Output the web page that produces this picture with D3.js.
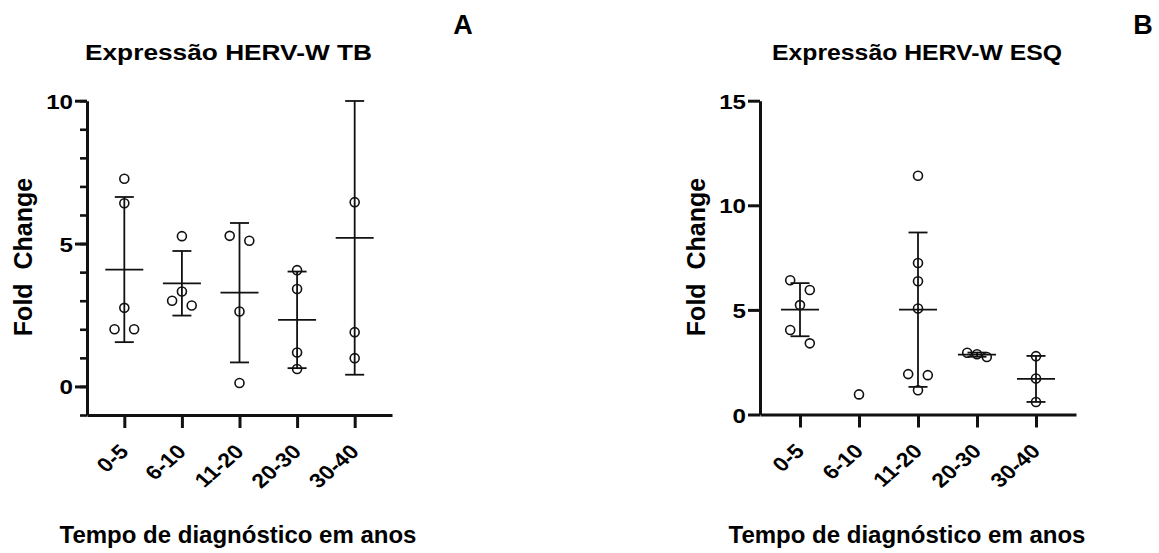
<!DOCTYPE html>
<html><head><meta charset="utf-8">
<script src="https://cdn.jsdelivr.net/npm/d3@7"></script>
<style>
body{margin:0;background:#fff}
svg{display:block}
text{font-family:"Liberation Sans",Arial,sans-serif;font-weight:bold;fill:#000}
</style>
</head><body>
<svg id="c" width="1159" height="553"></svg>
<script>
// ---------- data ----------
const categories = ["0-5","6-10","11-20","20-30","30-40"];
const tbTitle = "Expressão HERV-W TB";
const esqTitle = "Expressão HERV-W ESQ";
const yLabel = "Fold  Change";
const xLabel = "Tempo de diagnóstico em anos";
const panelLetters = ["A","B"];
const tbTicks = [0,5,10];
const tbMinorTicks = [-1,0,1,2,3,4,5,6,7,8,9,10];
const esqTicks = [0,5,10,15];
// individual values (visible points) per category
const tbValues = [[7.27,6.41,2.75,2.00,2.00],[5.26,3.32,3.00,2.83],[5.27,5.10,2.62,0.12],[4.07,3.41,1.19,0.61],[6.45,1.90,0.99]];
const tbLanes  = [[0,0,0,-1,1],[0,0,-1,1],[-1,1,0,0],[0,0,0,0],[0,0,0]];
const tbMean   = [4.09,3.61,3.28,2.33,5.20];
const tbSD     = [2.54,1.13,2.44,1.69,4.79];
const esqValues = [[6.42,5.95,5.23,4.04,3.40],[0.96],[11.41,7.24,6.37,5.07,1.93,1.88,1.16],[2.95,2.88,2.75],[2.79,1.72,0.60]];
const esqLanes  = [[-1,1,0,-1,1],[0],[0,0,0,0,-1,1,0],[-1,0,1],[0,0,0]];
const esqMean   = [5.01,null,5.01,2.86,1.70];
const esqSD     = [1.27,null,3.69,0.10,1.10];

// ---------- drawing ----------
const svg = d3.select("#c");
const INK = "#111";
const SX = 1.15; // horizontal stretch of the source figure's lettering

function panel(cfg){
  const g = svg.append("g");
  const y = d3.scaleLinear().domain(cfg.yDomain).range(cfg.yRange);
  const x = d3.scalePoint().domain(categories).range(cfg.xRange).padding(cfg.pad);
  const axisY = cfg.xRange[0];
  const axisX = cfg.yRange[0];

  // minor ticks
  if (cfg.minor) {
    g.append("g").attr("transform",`translate(${axisY},0)`)
      .call(d3.axisLeft(y).tickValues(cfg.minor).tickSize(7).tickFormat(""))
      .call(s=>s.select(".domain").remove())
      .call(s=>s.selectAll("line").attr("stroke",INK).attr("stroke-width",2.6));
  }
  // y axis
  g.append("g").attr("transform",`translate(${axisY},0)`)
    .call(d3.axisLeft(y).tickValues(cfg.yTicks).tickSize(12).tickSizeOuter(0))
    .call(s=>s.select(".domain").attr("stroke",INK).attr("stroke-width",3))
    .call(s=>s.selectAll(".tick line").attr("stroke",INK).attr("stroke-width",3))
    .call(s=>s.selectAll(".tick text").attr("font-size",21).attr("fill","#000")
      .attr("font-family",null).attr("x",0).attr("dy","0.36em")
      .attr("transform",`translate(-14,0) scale(${SX},1)`));
  // x axis
  g.append("g").attr("transform",`translate(0,${axisX})`)
    .call(d3.axisBottom(x).tickSize(13).tickSizeOuter(0))
    .call(s=>s.select(".domain").attr("stroke",INK).attr("stroke-width",3))
    .call(s=>s.selectAll(".tick line").attr("stroke",INK).attr("stroke-width",3))
    .call(s=>s.selectAll(".tick text").attr("font-size",20).attr("fill","#000")
      .attr("font-family",null).attr("text-anchor","end").attr("y",0).attr("dy",0)
      .attr("transform",`translate(5,38) scale(${SX},1) rotate(-45)`));

  // error bars + means
  const stats = categories.map((c,i)=>({c, m:cfg.mean[i], sd:cfg.sd[i]})).filter(d=>d.m!=null);
  const top = d=>y(Math.min(d.m+d.sd,cfg.yDomain[1]));
  const eb = g.append("g").attr("stroke",INK).attr("stroke-width",1.8).attr("fill","none");
  eb.selectAll(".v").data(stats).join("line")
    .attr("x1",d=>x(d.c)).attr("x2",d=>x(d.c)).attr("y1",top).attr("y2",d=>y(d.m-d.sd));
  eb.selectAll(".cap-t").data(stats).join("line")
    .attr("x1",d=>x(d.c)-9.5).attr("x2",d=>x(d.c)+9.5).attr("y1",top).attr("y2",top);
  eb.selectAll(".cap-b").data(stats).join("line")
    .attr("x1",d=>x(d.c)-9.5).attr("x2",d=>x(d.c)+9.5)
    .attr("y1",d=>y(d.m-d.sd)).attr("y2",d=>y(d.m-d.sd));
  eb.selectAll(".mean").data(stats).join("line")
    .attr("x1",d=>x(d.c)-19).attr("x2",d=>x(d.c)+19)
    .attr("y1",d=>y(d.m)).attr("y2",d=>y(d.m));

  // points
  const pts = [];
  categories.forEach((c,i)=>cfg.values[i].forEach((v,j)=>{
    if (v>=cfg.yDomain[0] && v<=cfg.yDomain[1]) pts.push({c,v,lane:cfg.lanes[i][j]});
  }));
  g.append("g").selectAll("circle").data(pts).join("circle")
    .attr("cx",d=>x(d.c)+d.lane*9.8).attr("cy",d=>y(d.v)).attr("r",4.5)
    .attr("fill","none").attr("stroke",INK).attr("stroke-width",1.6);

  // titles
  g.append("text").attr("x",cfg.titleX).attr("y",60).attr("text-anchor","middle")
    .attr("font-size",22).attr("textLength",cfg.titleLen).attr("lengthAdjust","spacingAndGlyphs")
    .text(cfg.title);
  g.append("text").attr("transform",`translate(${cfg.yLabX},${cfg.yLabY}) rotate(-90)`)
    .attr("text-anchor","middle").attr("font-size",25).style("white-space","pre")
    .attr("xml:space","preserve").text(yLabel);
  g.append("text").attr("x",cfg.xLabX).attr("y",543).attr("text-anchor","middle")
    .attr("font-size",24).text(xLabel);
  g.append("text").attr("x",cfg.letterX).attr("y",34).attr("text-anchor","middle")
    .attr("font-size",27).attr("font-family","'Open Sans',sans-serif").attr("font-weight",700)
    .text(cfg.letter);
}

panel({yDomain:[-1,10], yRange:[415,100.7], yTicks:tbTicks, minor:tbMinorTicks,
  xRange:[87,392], pad:0.648, values:tbValues, lanes:tbLanes, mean:tbMean, sd:tbSD,
  title:tbTitle, titleX:228.5, titleLen:287, yLabX:32, yLabY:257, xLabX:238, letter:panelLetters[0], letterX:463});
panel({yDomain:[0,15], yRange:[414.5,100.7], yTicks:esqTicks, minor:null,
  xRange:[760,1076], pad:0.678, values:esqValues, lanes:esqLanes, mean:esqMean, sd:esqSD,
  title:esqTitle, titleX:917, titleLen:290, yLabX:705, yLabY:257, xLabX:907, letter:panelLetters[1], letterX:1143});
</script>
</body></html>
